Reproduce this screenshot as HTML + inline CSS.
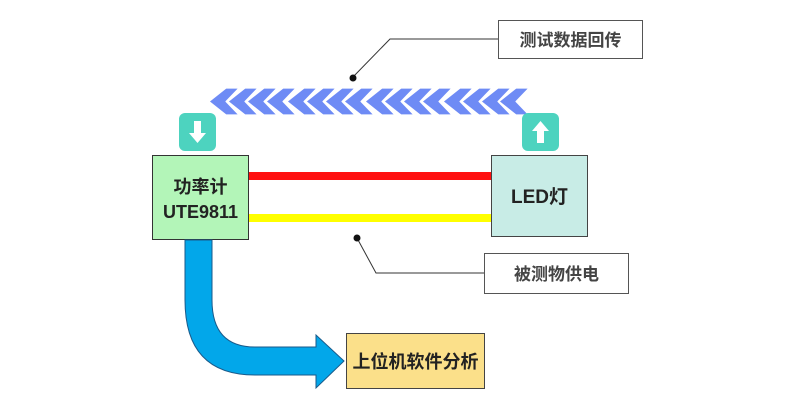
<!DOCTYPE html>
<html><head><meta charset="utf-8"><style>
body{margin:0;background:#fff;width:790px;height:411px;overflow:hidden;font-family:"Liberation Sans","Noto Sans CJK SC",sans-serif;}
</style></head><body>
<svg width="790" height="411" xmlns="http://www.w3.org/2000/svg" style="position:absolute;left:0;top:0">
<defs>
<polygon id="ch" points="17,0 30,0 17,13.5 30,27 17,27 0,13.5" stroke="#fff" stroke-width="1.2" stroke-linejoin="round"/>
</defs>
<g fill="#6e8bf5">
<use href="#ch" x="209" y="88"/>
<use href="#ch" x="228" y="88"/>
<use href="#ch" x="247" y="88"/>
<use href="#ch" x="266" y="88"/>
<use href="#ch" x="287" y="88"/>
<use href="#ch" x="306" y="88"/>
<use href="#ch" x="325" y="88"/>
<use href="#ch" x="344" y="88"/>
<use href="#ch" x="365" y="88"/>
<use href="#ch" x="384" y="88"/>
<use href="#ch" x="403" y="88"/>
<use href="#ch" x="422" y="88"/>
<use href="#ch" x="443" y="88"/>
<use href="#ch" x="462" y="88"/>
<use href="#ch" x="481" y="88"/>
<use href="#ch" x="499" y="88"/>
</g>
<rect x="179" y="113" width="37" height="38" rx="6" fill="#4dd3bf"/>
<path d="M194 121h7v12h5l-8.5 10l-8.5-10h5z" fill="#fff"/>
<rect x="522" y="113" width="37" height="38" rx="6" fill="#4dd3bf"/>
<path d="M537 143h7v-12h5l-8.5-10l-8.5 10h5z" fill="#fff"/>
<rect x="249" y="172" width="242" height="8" fill="#ff1010"/>
<rect x="249" y="214" width="242" height="8" fill="#ffff00"/>
<rect x="152.5" y="155.5" width="96" height="84" fill="#b3f5b8" stroke="#333"/>
<text x="200.5" y="193" font-size="18" font-weight="bold" text-anchor="middle" fill="#222">功率计</text>
<text x="200.5" y="218" font-size="18" font-weight="bold" text-anchor="middle" fill="#222">UTE9811</text>
<rect x="491.5" y="155.5" width="96" height="81" fill="#c8ece6" stroke="#444"/>
<text x="539.5" y="203" font-size="19" font-weight="bold" text-anchor="middle" fill="#222">LED灯</text>
<path d="M352 78 L390 39 L498 39" fill="none" stroke="#333" stroke-width="1"/>
<circle cx="353" cy="78" r="3.5" fill="#111"/>
<rect x="498.5" y="20.5" width="144" height="38" fill="#fff" stroke="#555"/>
<text x="570.5" y="46" font-size="17" font-weight="bold" text-anchor="middle" fill="#444">测试数据回传</text>
<path d="M357 238 L376 273 L484 273" fill="none" stroke="#333" stroke-width="1"/>
<circle cx="357" cy="238" r="3.5" fill="#111"/>
<rect x="484.5" y="253.5" width="144" height="40" fill="#fff" stroke="#555"/>
<text x="556.5" y="280" font-size="17" font-weight="bold" text-anchor="middle" fill="#444">被测物供电</text>
<path d="M185 240 L212 240 L212 300 Q212 347 255 347 L316 347 L316 335 L344 361 L316 388 L316 375 L255 375 Q185 375 185 300 Z" fill="#02a7ea" stroke="#1a5a8a" stroke-width="1"/>
<rect x="346.5" y="333.5" width="138" height="55" fill="#fbe08a" stroke="#444"/>
<text x="415.5" y="368" font-size="18" font-weight="bold" text-anchor="middle" fill="#222">上位机软件分析</text>
</svg>
</body></html>
